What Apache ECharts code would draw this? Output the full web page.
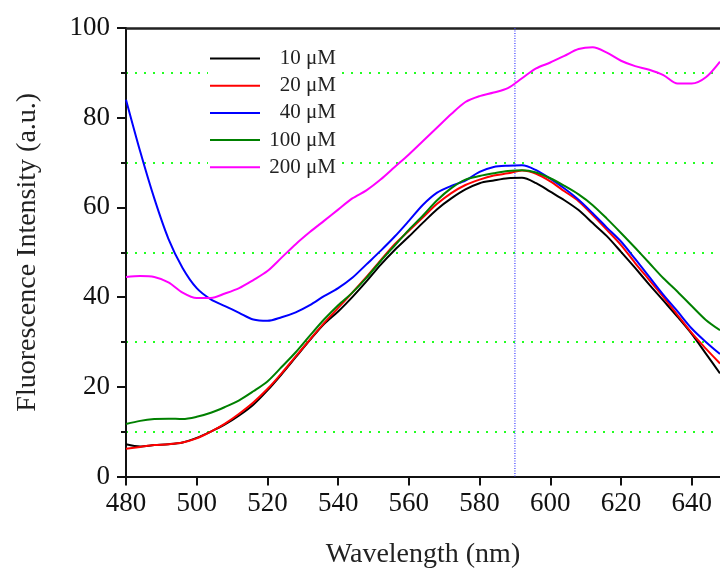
<!DOCTYPE html>
<html>
<head>
<meta charset="utf-8">
<script src="https://cdn.jsdelivr.net/npm/echarts@6/dist/echarts.min.js"></script>
<style>html,body{margin:0;padding:0;background:#fff}#c{width:720px;height:568px}</style>
</head>
<body>
<div id="c"></div>
<script>
const wavelengths = [480,484,488,492,496,500,504,508,512,516,520,524,528,532,536,540,544,548,552,556,560,564,568,572,576,580,584,588,592,596,600,604,608,612,616,620,624,628,632,636,640,644,648];
const s10 = [7.2,6.7,7.0,7.2,7.6,8.6,10.0,11.6,13.6,16.0,19.2,22.8,26.6,30.4,34.0,36.8,40.0,43.5,47.2,50.5,53.5,56.6,59.6,62.0,64.0,65.4,66.0,66.5,66.6,65.4,63.5,61.6,59.4,56.5,53.6,50.1,46.5,42.8,39.2,35.6,31.8,27.4,23.0];
const s20 = [6.2,6.6,7.0,7.2,7.6,8.5,10.0,11.8,14.0,16.5,19.5,23.0,26.8,30.5,34.2,37.6,41.0,44.5,48.2,51.8,54.8,57.8,60.8,63.2,65.0,66.2,67.1,67.6,68.2,67.5,65.8,63.6,61.4,58.3,55.0,51.6,47.6,43.8,40.0,36.0,32.0,28.5,25.2];
const s40 = [84.0,72.5,62.0,53.0,46.5,42.0,39.5,38.0,36.5,35.0,34.7,35.5,36.6,38.2,40.2,42.0,44.3,47.3,50.3,53.5,57.0,60.6,63.3,64.8,66.0,67.9,69.0,69.3,69.4,68.3,66.4,64.2,61.7,58.7,55.5,52.4,48.5,44.5,40.5,36.8,33.0,30.0,27.3];
const s100 = [11.7,12.4,12.8,12.9,12.8,13.3,14.2,15.5,17.0,19.0,21.2,24.4,27.7,31.4,35.0,38.2,41.0,44.3,48.0,51.5,55.0,58.2,61.6,64.3,66.2,67.0,67.6,68.1,68.3,67.8,66.5,64.8,62.9,60.5,57.5,54.3,51.0,47.6,44.2,41.2,38.0,34.9,32.6];
const s200 = [44.5,44.7,44.5,43.3,41.0,39.8,39.8,40.8,42.0,43.8,45.8,48.8,51.8,54.5,57.0,59.5,62.0,63.8,66.2,69.0,71.8,74.8,77.8,80.8,83.5,84.8,85.6,86.6,88.8,91.0,92.3,93.8,95.3,95.7,94.5,92.7,91.5,90.7,89.5,87.6,87.6,89.0,92.5];
const seriesNames = ['10 μM','20 μM','40 μM','100 μM','200 μM'];
const seriesColors = ['#000000','#ff0000','#0000ff','#008000','#ff00ff'];
const markWavelength = 590;
const yMin = 0, yMax = 100;
const xTitle = 'Wavelength (nm)';
const yTitle = 'Fluorescence Intensity (a.u.)';

const allData = [s10,s20,s40,s100,s200];
const FONT = '"Liberation Serif", "Times New Roman", serif';
const chart = echarts.init(document.getElementById('c'));
const series = allData.map((arr,i)=>({
  name: seriesNames[i],
  type: 'line',
  data: wavelengths.map((w,j)=>[w,arr[j]]),
  symbol: 'none',
  smooth: 0.3,
  lineStyle: {color: seriesColors[i], width: 2},
  itemStyle: {color: seriesColors[i]},
  z: 3 + i
}));
series.push({
  name: 'marker', type: 'line', symbol: 'none', silent: true, z: 2,
  data: [[markWavelength, yMin], [markWavelength, yMax]],
  lineStyle: {color: '#3a3aff', type: [1,1.5], width: 1.2},
  itemStyle: {color: '#3a3aff'}
});
chart.setOption({
  animation: false,
  backgroundColor: '#fff',
  grid: {left: 126, top: 28, right: 0, bottom: 91.5, outerBoundsMode: 'none', containLabel: false},
  legend: {
    left: 208, top: 46, orient: 'vertical', itemWidth: 50, itemHeight: 2, itemGap: 6.2,
    icon: 'rect',
    backgroundColor: '#fff', padding: [2,2,6,2],
    data: seriesNames,
    formatter: n => '{a|' + n + '}',
    textStyle: {fontFamily: FONT, fontSize: 21, color: '#222', lineHeight: 20,
      rich: {a: {width: 71, align: 'right', fontFamily: FONT, fontSize: 21, color: '#222', lineHeight: 20}}}
  },
  xAxis: [{
    type: 'value', min: 480, max: 648, interval: 20,
    name: xTitle, nameLocation: 'middle', nameGap: 64,
    nameTextStyle: {fontFamily: FONT, fontSize: 28, color: '#222'},
    axisLine: {onZero: false, lineStyle: {color: '#111', width: 2}},
    axisTick: {inside: false, length: 9, lineStyle: {color: '#111', width: 2}},
    axisLabel: {fontFamily: FONT, fontSize: 27, color: '#111', margin: 14, showMaxLabel: false},
    splitLine: {show: false}
  },{
    type: 'value', min: 480, max: 648, position: 'top',
    axisLine: {onZero: false, lineStyle: {color: '#222', width: 2.5}},
    axisTick: {show: false}, axisLabel: {show: false}, splitLine: {show: false}
  }],
  yAxis: {
    type: 'value', min: yMin, max: yMax, interval: 20,
    name: yTitle, nameLocation: 'middle', nameGap: 84,
    nameTextStyle: {fontFamily: FONT, fontSize: 28, color: '#222'},
    axisLine: {show: true, onZero: false, lineStyle: {color: '#111', width: 2}},
    axisTick: {inside: false, length: 9, lineStyle: {color: '#111', width: 2}},
    minorTick: {show: true, splitNumber: 2, length: 5, lineStyle: {color: '#111', width: 2}},
    minorSplitLine: {show: true, lineStyle: {color: '#22ff22', type: [2,7], width: 2}},
    axisLabel: {fontFamily: FONT, fontSize: 27, color: '#111', margin: 16},
    splitLine: {show: false}
  },
  series: series
});
</script>
</body>
</html>
